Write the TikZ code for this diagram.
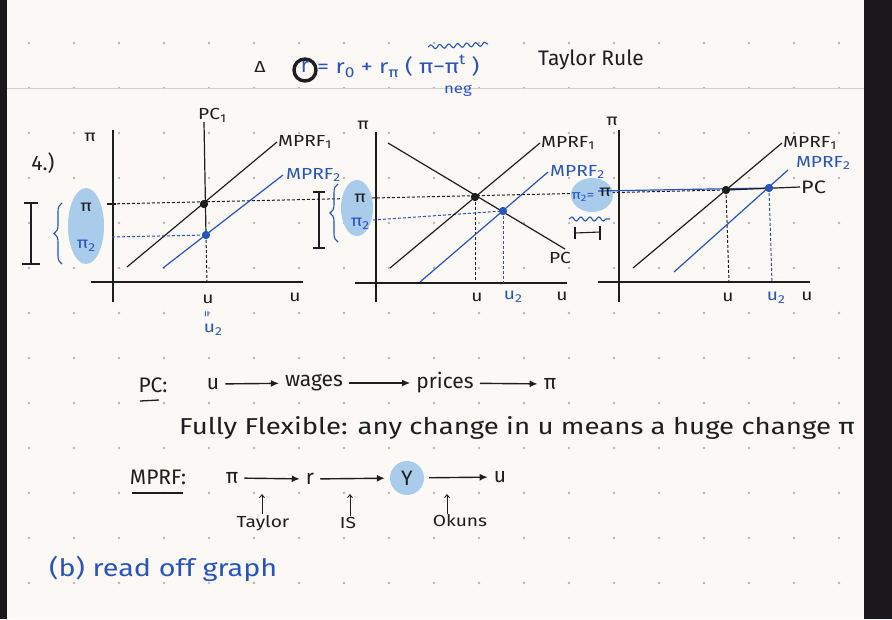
\documentclass[tikz,border=0pt]{standalone}
\usepackage{fontspec}
\usepackage{graphicx}
\setmainfont{Fira Sans}
\newfontfamily\widehand{Fira Sans}[FakeStretch=1.2]
\usetikzlibrary{arrows.meta,decorations.pathmorphing,decorations.pathreplacing}
\definecolor{ink}{HTML}{1E1E1E}
\definecolor{bink}{HTML}{2A55B8}
\definecolor{hl}{HTML}{A8CCEA}
\definecolor{paper}{HTML}{FBF8F6}
\definecolor{edgedark}{HTML}{1B181D}
\definecolor{rulecol}{HTML}{D2CECE}
\definecolor{gdot}{HTML}{B8B4B4}
\newcommand{\subdn}[1]{\raisebox{-0.35ex}{\scalebox{0.72}{#1}}}
\newcommand{\supup}[1]{\raisebox{0.9ex}{\scalebox{0.72}{#1}}}
\tikzset{
 axisline/.style={ink, line width=1.2pt},
 kcurve/.style={ink, line width=1.2pt},
 bcurve/.style={bink, line width=1.2pt},
 kguide/.style={ink, line width=1pt, dash pattern=on 3pt off 2pt},
 bguide/.style={bink, line width=1pt, dash pattern=on 3pt off 2pt},
 lbl/.style={text=ink, font=\widehand\fontsize{16}{16}\selectfont, inner sep=1pt},
 blbl/.style={lbl, text=bink},
 kpt/.style={circle, fill=ink, inner sep=0pt, minimum size=8pt},
 bpt/.style={circle, fill=bink, inner sep=0pt, minimum size=8pt},
 txt/.style={text=ink, font=\fontsize{21}{21}\selectfont, inner sep=1pt},
 btxt/.style={txt, text=bink},
 flow/.style={ink, line width=1.4pt, shorten <=5pt, shorten >=5pt, -{Latex[length=8pt,width=7pt]}},
 upar/.style={ink, line width=0.9pt, -{Straight Barb[length=3pt,width=5pt]}},
 ibar/.style={ink, line width=1.4pt},
 bbrace/.style={bink, line width=1.1pt, decorate, decoration={brace, amplitude=8pt}},
 wave/.style={bink, line width=1.1pt, decorate, decoration={snake, amplitude=2pt, segment length=9pt}},
}
\begin{document}
\begin{tikzpicture}[x=1pt,y=-1pt]
\useasboundingbox (0,0) rectangle (892,619);
% paper
\fill[paper] (0,0) rectangle (892,619);
\foreach \i in {0,...,18} \foreach \j in {0,...,13}
  \fill[gdot] (29+45*\i,-2+45*\j) circle (1.3pt);
\draw[rulecol, line width=1pt] (7,88) -- (864,88);
\fill[edgedark] (0,0) rectangle (7,619);
\fill[edgedark] (864,0) rectangle (892,619);

% ---------- top formula ----------
\node[lbl] (delta) at (260,67) {Δ};
\draw[ink, line width=3.4pt] (305,70) circle (11pt);
\node[btxt] (rr) at (305,67) {r};
\node[btxt, font=\widehand\fontsize{20}{20}\selectfont, anchor=west] (form) at (316,66) {= r\subdn{0} + r\subdn{π} ( π−π\supup{t} )};
\node[blbl, font=\widehand\fontsize{14}{14}\selectfont] (neg) at (458,91) {neg};
\coordinate (wv1) at (428,47);
\coordinate (wv2) at (488,44);
\draw[wave] (wv1) -- (wv2);
\node[txt] (taylorrule) at (591,60) {Taylor Rule};

% ---------- graph 1 ----------
\node[txt] (four) at (43,163) {4.)};
\coordinate (g1yt) at (113,130); \coordinate (g1yb) at (113,302);
\coordinate (g1xl) at (91,282); \coordinate (g1xr) at (303,282);
\draw[axisline] (g1yt) -- (g1yb);
\draw[axisline] (g1xl) -- (g1xr);
\node[lbl] (g1pi) at (90,137) {π};
\node[lbl] (g1u) at (295,297) {u};
% highlight and left marks
\fill[hl] (86,226) ellipse [x radius=18pt, y radius=38pt];
\node[lbl] (g1pibar) at (86,207) {π};
\node[blbl] (g1pi2) at (86,246) {π\subdn{2}};
\coordinate (g1it) at (31,203); \coordinate (g1ib) at (31,264);
\draw[ibar] (g1it) -- (g1ib);
\draw[ibar] ([xshift=-7pt]g1it) -- ([xshift=7pt]g1it);
\draw[ibar] ([xshift=-9pt]g1ib) -- ([xshift=9pt]g1ib);
\coordinate (g1bt) at (62,203); \coordinate (g1bb) at (62,264);
\draw[bbrace] (g1bb) -- (g1bt);
% curves
\coordinate (pc1t) at (204,122); \coordinate (pc1b) at (207,284);
\coordinate (m11) at (127,267); \coordinate (m12) at (277,142);
\coordinate (m21) at (163,268); \coordinate (m22) at (283,175);
\node[kpt] (g1k) at (204,204) {};
\node[bpt] (g1b) at (206,235) {};
\coordinate (g1tick) at (107,204);
\coordinate (g1bl) at (112,237);
\coordinate (g3k0) at (726,190);
\draw[kguide] (g1tick) -- (g3k0);
\draw[ink, line width=1.6pt] (g1tick) -- (116,204);
\draw[bguide] (g1bl) -- (g1b);
\draw[kcurve] (pc1t) -- (g1b.center);
\draw[kguide] (g1b.center) -- (pc1b);
\draw[kcurve] (m11) -- (m12);
\draw[bcurve] (m21) -- (m22);
\node[kpt] at (g1k) {};
\node[bpt] at (g1b) {};
\node[lbl, anchor=south west] (g1pc) at (197,124) {PC\subdn{1}};
\node[lbl, anchor=west] (g1m1) at (m12) {MPRF\subdn{1}};
\node[blbl, anchor=west] (g1m2) at ([xshift=2pt]m22) {MPRF\subdn{2}};
\node[lbl] (g1ulab) at (208,299) {u};
\node[blbl, rotate=90, font=\fontsize{13}{13}\selectfont] (g1eq) at (208,314) {=};
\node[blbl] (g1u2) at (213,330) {u\subdn{2}};

% ---------- graph 2 ----------
\coordinate (g2yt) at (376,132); \coordinate (g2yb) at (376,302);
\coordinate (g2xl) at (355,283); \coordinate (g2xr) at (567,283);
\draw[axisline] (g2yt) -- (g2yb);
\draw[axisline] (g2xl) -- (g2xr);
\node[lbl] (g2pi) at (363,125) {π};
\node[lbl] (g2u) at (562,296) {u};
\fill[hl] (357,208) ellipse [x radius=16pt, y radius=28pt];
\node[lbl] (g2pibar) at (360,198) {π};
\node[blbl] (g2pi2) at (360,224) {π\subdn{2}};
\coordinate (g2it) at (319,192); \coordinate (g2ib) at (319,248);
\draw[ibar] (g2it) -- (g2ib);
\draw[ibar] ([xshift=-6pt]g2it) -- ([xshift=6pt]g2it);
\draw[ibar] ([xshift=-6pt]g2ib) -- ([xshift=6pt]g2ib);
\coordinate (g2bt) at (338,184); \coordinate (g2bb) at (338,242);
\draw[bbrace] (g2bb) -- (g2bt);
\coordinate (pc2a) at (388,143); \coordinate (pc2b) at (565,249);
\coordinate (m211) at (390,268); \coordinate (m212) at (540,143);
\coordinate (m221) at (420,282); \coordinate (m222) at (548,172);
\node[kpt] (g2k) at (475,197) {};
\node[bpt] (g2b) at (503,211) {};
\coordinate (g2kd) at (475,283); \coordinate (g2bd) at (503,283);
\coordinate (g2bl) at (373,220);
\draw[kguide] (g2k.center) -- (g2kd);
\draw[bguide] (g2b.center) -- (g2bd);
\draw[bguide] (g2bl) -- (g2b.center);
\draw[kcurve] (pc2a) -- (pc2b);
\draw[kcurve] (m211) -- (m212);
\draw[bcurve] (m221) -- (m222);
\node[kpt] at (g2k) {};
\node[bpt] at (g2b) {};
\node[lbl, anchor=west] (g2m1) at (m212) {MPRF\subdn{1}};
\node[blbl, anchor=west] (g2m2) at ([xshift=1pt]m222) {MPRF\subdn{2}};
\node[lbl] (g2pc) at (560,258) {PC};
\node[lbl] (g2ulab) at (477,297) {u};
\node[blbl] (g2u2) at (513,297) {u\subdn{2}};

% ---------- graph 3 ----------
\coordinate (g3yt) at (619,130); \coordinate (g3yb) at (619,302);
\coordinate (g3xl) at (598,282); \coordinate (g3xr) at (810,282);
\draw[axisline] (g3yt) -- (g3yb);
\draw[axisline] (g3xl) -- (g3xr);
\node[lbl] (g3pi) at (612,121) {π};
\node[lbl] (g3u) at (807,296) {u};
\fill[hl] (592,195) ellipse [x radius=21pt, y radius=17pt];
\coordinate (g3wa) at (569,219); \coordinate (g3wb) at (610,219);
\draw[wave] (g3wa) -- (g3wb);
\coordinate (g3ha) at (575,233); \coordinate (g3hb) at (600,232);
\draw[ink, line width=1.1pt] (g3ha) -- (g3hb);
\draw[ink, line width=1.1pt] ([yshift=-6pt]g3ha) -- ([yshift=6pt]g3ha);
\draw[ink, line width=1.3pt] ([yshift=-8pt]g3hb) -- ([yshift=6pt]g3hb);
\coordinate (m311) at (633,268); \coordinate (m312) at (782,143);
\coordinate (m321) at (674,272); \coordinate (m322) at (788,170);
\node[kpt] (g3k) at (g3k0) {};
\node[bpt] (g3b) at (769,188) {};
\coordinate (g3bl) at (598,191); \coordinate (g3pcr) at (800,187);
\coordinate (g3kd) at (729,283); \coordinate (g3bd) at (772,283);
\draw[bcurve] (g3bl) -- (g3b.center);
\draw[kcurve] (g3k.center) -- (g3pcr);
\draw[kguide] (g3k.center) -- (g3kd);
\draw[bguide] (g3b.center) -- (g3bd);
\draw[kcurve] (m311) -- (m312);
\draw[bcurve] (m321) -- (m322);
\node[kpt] at (g3k) {};
\node[bpt] at (g3b) {};
\node[blbl, font=\widehand\fontsize{13}{13}\selectfont] (g3pi2) at (583,197) {π\subdn{2}=};
\node[lbl] (g3pibar) at (605,192) {π};
\node[lbl, anchor=west] (g3m1) at (m312) {MPRF\subdn{1}};
\node[blbl] (g3m2) at (823,163) {MPRF\subdn{2}};
\node[lbl, font=\widehand\fontsize{18}{18}\selectfont, anchor=west] (g3pc) at (g3pcr) {PC};
\node[lbl] (g3ulab) at (728,297) {u};
\node[blbl] (g3u2) at (776,298) {u\subdn{2}};

% ---------- PC chain ----------
\node[txt] (pclab) at (153,385) {PC:};
\draw[ink, line width=1.3pt] (140,401) -- (159,400);
\node[txt] (cu) at (213,384) {u};
\node[txt] (cw) at (314,383) {wages};
\node[txt] (cp) at (445,383) {prices};
\node[txt] (cpi) at (550,384) {π};
\draw[flow] (cu) -- (cw);
\draw[flow] (cw) -- (cp);
\draw[flow] (cp) -- (cpi);
\node[txt, font=\widehand\fontsize{23}{23}\selectfont] (flex) at (517,428) {Fully Flexible: any change in u means a huge change π};

% ---------- MPRF chain ----------
\node[txt] (mlab) at (158,477) {MPRF:};
\draw[ink, line width=1.3pt] (132,493) -- (183,493);
\node[txt] (mpi) at (232,478) {π};
\node[txt] (mr) at (310,479) {r};
\node[txt, circle, fill=hl, minimum size=34pt, inner sep=0pt] (my) at (407,478) {Y};
\node[txt] (mu) at (500,477) {u};
\draw[flow] (mpi) -- (mr);
\draw[flow] (mr) -- (my);
\draw[flow] (my) -- (mu);
\node[lbl] (tay) at (263,523) {Taylor};
\node[lbl] (is) at (348,523) {IS};
\node[lbl] (oku) at (460,521) {Okuns};
\coordinate (ua1) at (262,494); \coordinate (ua2) at (350,494); \coordinate (ua3) at (447,494);
\draw[upar] (tay.north -| ua1) -- (ua1);
\draw[upar] (is.north -| ua2) -- (ua2);
\draw[upar] (oku.north -| ua3) -- (ua3);
\node[btxt, font=\widehand\fontsize{24}{24}\selectfont, anchor=west] (readoff) at (48,569) {(b) read off graph};
\end{tikzpicture}
\end{document}
